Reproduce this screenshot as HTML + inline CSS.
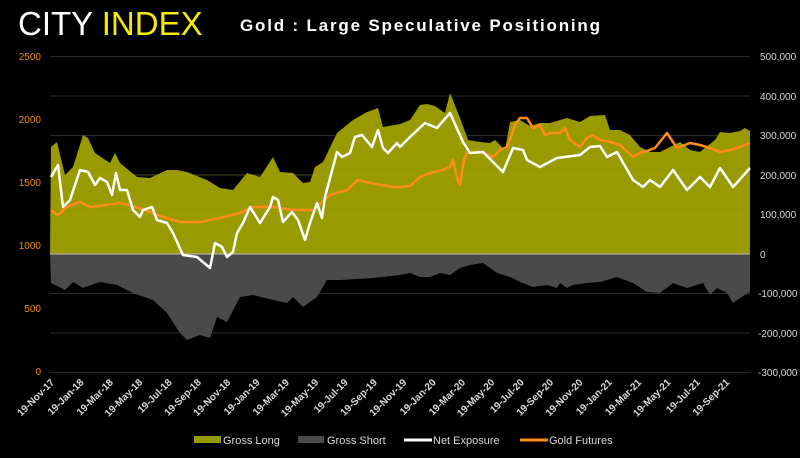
<!DOCTYPE html>
<html><head><meta charset="utf-8"><style>
html,body{margin:0;padding:0;background:#000;}
body{width:800px;height:458px;overflow:hidden;position:relative;font-family:"Liberation Sans",sans-serif;}
</style></head><body>
<svg width="800" height="458" viewBox="0 0 800 458" xmlns="http://www.w3.org/2000/svg" style="position:absolute;left:0;top:0">
<rect width="800" height="458" fill="#000"/>
<text x="18" y="35" font-family="Liberation Sans, sans-serif" font-size="33" fill="#fff" font-weight="normal" style="letter-spacing:0px">CITY <tspan fill="#f5ec00">INDEX</tspan></text>
<text x="240" y="31" font-family="Liberation Sans, sans-serif" font-size="17" font-weight="bold" fill="#fff" textLength="360" lengthAdjust="spacing">Gold : Large Speculative Positioning</text>
<g stroke="#2a2a2a" stroke-width="1">
<line x1="50" y1="56.5" x2="750" y2="56.5"/><line x1="50" y1="96" x2="750" y2="96"/><line x1="50" y1="135.5" x2="750" y2="135.5"/><line x1="50" y1="175" x2="750" y2="175"/><line x1="50" y1="214.5" x2="750" y2="214.5"/><line x1="50" y1="293.5" x2="750" y2="293.5"/><line x1="50" y1="333" x2="750" y2="333"/><line x1="50" y1="372.5" x2="750" y2="372.5"/>
</g>
<polygon fill="#999900" points="50,254 51,147 57,142 65,175 73,167 83,135 88,138 95,153 110,163 115,153 120,163 137,177 150,178 167,170 177,170 187,172 207,180 220,188 233,190 247,173 260,177 273,157 280,172 293,173 303,183 310,182 315,167 323,162 337,133 353,120 367,112 378,108 383,127 400,124 410,120 420,105 427,104 435,106 445,113 450,93 460,118 468,140 480,142 490,143 495,140 500,145 505,150 510,122 520,120 530,126 540,123 550,123 567,118 580,122 590,116 605,115 610,130 620,130 630,135 640,147 650,152 660,152 670,147 680,142 690,150 700,152 715,140 720,132 730,133 740,131 745,128 750,131 750,254"/>
<polygon fill="#4a4a4a" points="50,254 51,283 65,290 73,282 83,288 100,282 117,285 133,293 153,300 167,313 180,333 187,340 200,335 210,338 217,317 227,322 240,297 253,295 273,300 287,303 293,297 303,307 317,297 327,280 340,280 373,278 400,275 410,273 420,277 430,277 440,273 450,275 460,268 470,265 483,263 497,273 510,277 520,282 533,287 547,285 557,288 560,283 567,288 573,285 587,283 600,282 617,277 633,283 647,292 660,293 673,283 687,288 703,283 710,295 717,288 727,293 733,303 740,298 750,292 750,254"/>
<g stroke="#999900" stroke-opacity="0.0"></g>
<g stroke="#b0b030" stroke-width="0.6" opacity="0.5">
<line x1="50" y1="214.5" x2="750" y2="214.5"/><line x1="50" y1="175" x2="750" y2="175"/>
</g>
<line x1="50" y1="254" x2="750" y2="254" stroke="#bfbfbf" stroke-width="1"/>
<polyline fill="none" stroke="#ff8c1a" stroke-width="2.5" stroke-linejoin="round" points="51,210 58,215 67,207 80,202 90,207 107,205 120,203 140,208 157,215 180,222 200,222 220,218 240,213 253,207 273,207 293,210 313,210 330,195 347,190 358,180 370,183 393,187 400,187 410,186 420,177 430,173 443,170 450,167 453,160 457,178 460,185 464,160 467,153 480,152 493,157 500,150 507,147 510,140 515,125 520,118 527,118 533,128 540,125 545,135 550,133 560,133 565,128 570,140 580,147 587,138 593,135 600,140 610,142 620,145 633,157 640,153 647,151 655,148 667,133 677,148 690,143 700,145 710,148 720,152 730,150 740,147 750,143"/>
<polyline fill="none" stroke="#ffffff" stroke-width="2.5" stroke-linejoin="round" points="51,177 58,165 63,207 70,200 80,170 88,172 95,185 100,178 107,182 112,195 116,173 120,190 127,190 133,210 140,217 143,210 152,207 157,220 167,223 173,233 183,255 197,257 210,268 215,243 222,247 227,257 233,252 237,233 243,223 250,207 260,223 270,207 273,197 278,200 283,222 292,212 298,220 305,240 310,223 317,203 322,218 325,197 337,152 342,157 350,153 355,137 362,135 372,147 378,130 383,148 388,153 397,143 400,147 410,137 425,123 437,128 450,113 463,142 470,153 483,152 503,172 513,148 523,150 527,160 540,167 557,158 580,155 590,147 600,146 607,157 617,152 633,180 643,187 650,180 660,187 673,170 687,190 700,177 710,187 720,168 733,187 750,168"/>
<g font-size="10" fill="#f28c00" text-anchor="end" font-family="Liberation Sans, sans-serif">
<text x="41" y="60">2500</text><text x="41" y="123">2000</text><text x="41" y="186">1500</text><text x="41" y="249">1000</text><text x="41" y="312">500</text><text x="41" y="375">0</text>
</g>
<g font-size="10" fill="#d9d9d9" font-family="Liberation Sans, sans-serif">
<text x="760" y="60">500,000</text><text x="760" y="100">400,000</text><text x="760" y="139">300,000</text><text x="760" y="179">200,000</text><text x="760" y="218">100,000</text><text x="760" y="258">0</text><text x="758" y="297">-100,000</text><text x="758" y="337">-200,000</text><text x="758" y="376">-300,000</text>
</g>
<g font-size="10" font-weight="bold" fill="#d9d9d9" text-anchor="end" font-family="Liberation Sans, sans-serif">
<text transform="translate(55,383) rotate(-45)">19-Nov-17</text>
<text transform="translate(84.3,383) rotate(-45)">19-Jan-18</text>
<text transform="translate(113.7,383) rotate(-45)">19-Mar-18</text>
<text transform="translate(143,383) rotate(-45)">19-May-18</text>
<text transform="translate(172.4,383) rotate(-45)">19-Jul-18</text>
<text transform="translate(201.7,383) rotate(-45)">19-Sep-18</text>
<text transform="translate(231.1,383) rotate(-45)">19-Nov-18</text>
<text transform="translate(260.4,383) rotate(-45)">19-Jan-19</text>
<text transform="translate(289.8,383) rotate(-45)">19-Mar-19</text>
<text transform="translate(319.1,383) rotate(-45)">19-May-19</text>
<text transform="translate(348.5,383) rotate(-45)">19-Jul-19</text>
<text transform="translate(377.8,383) rotate(-45)">19-Sep-19</text>
<text transform="translate(407.2,383) rotate(-45)">19-Nov-19</text>
<text transform="translate(436.5,383) rotate(-45)">19-Jan-20</text>
<text transform="translate(465.9,383) rotate(-45)">19-Mar-20</text>
<text transform="translate(495.2,383) rotate(-45)">19-May-20</text>
<text transform="translate(524.6,383) rotate(-45)">19-Jul-20</text>
<text transform="translate(553.9,383) rotate(-45)">19-Sep-20</text>
<text transform="translate(583.3,383) rotate(-45)">19-Nov-20</text>
<text transform="translate(612.6,383) rotate(-45)">19-Jan-21</text>
<text transform="translate(642,383) rotate(-45)">19-Mar-21</text>
<text transform="translate(671.3,383) rotate(-45)">19-May-21</text>
<text transform="translate(700.7,383) rotate(-45)">19-Jul-21</text>
<text transform="translate(730,383) rotate(-45)">19-Sep-21</text>
</g>
<g font-size="11" fill="#d9d9d9" font-family="Liberation Sans, sans-serif">
<rect x="194" y="436" width="27" height="7" fill="#999900"/><text x="223" y="444">Gross Long</text>
<rect x="298" y="436" width="26" height="7" fill="#4a4a4a"/><text x="327" y="444">Gross Short</text>
<line x1="404" y1="440" x2="432" y2="440" stroke="#fff" stroke-width="3"/><text x="433" y="444">Net Exposure</text>
<line x1="520" y1="440" x2="548" y2="440" stroke="#ff8c1a" stroke-width="3"/><text x="549" y="444">Gold Futures</text>
</g>
</svg>
</body></html>
